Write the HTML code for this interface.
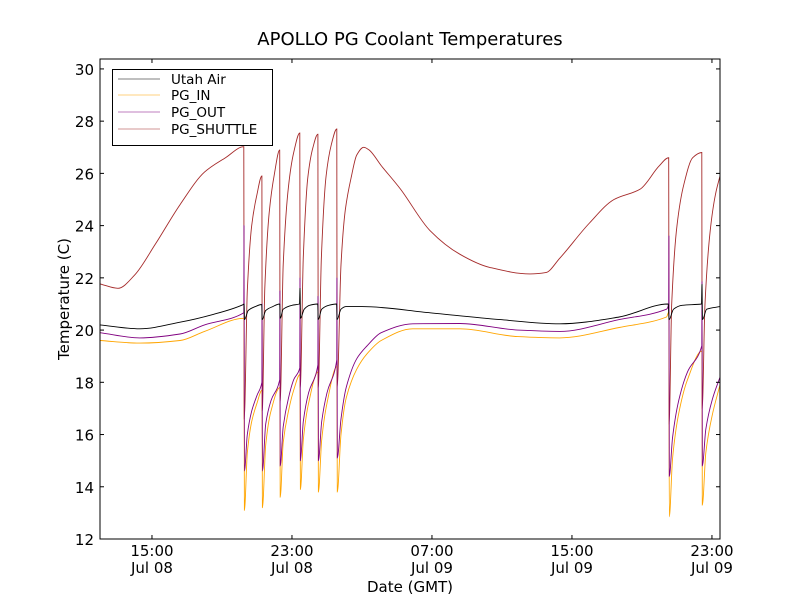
<!DOCTYPE html>
<html><head><meta charset="utf-8"><style>
body{margin:0;background:#fff;}
svg text{font-family:"DejaVu Sans","Liberation Sans",sans-serif;}
</style></head><body>
<svg id="chart" width="800" height="600" viewBox="0 0 800 600">
<rect width="800" height="600" fill="#fff"/>
<text x="410" y="45" font-size="18" text-anchor="middle">APOLLO PG Coolant Temperatures</text>
<text x="69" y="299" font-size="15" text-anchor="middle" transform="rotate(-90 69 299)">Temperature (C)</text>
<text x="410" y="592" font-size="15" text-anchor="middle">Date (GMT)</text>
<g id="series"></g>
<g id="axes"></g>
<rect x="100" y="59" width="620" height="480" fill="none" stroke="#000" stroke-width="1"/>
<g>
<rect x="112.5" y="69.5" width="160" height="76" fill="#fff" stroke="#000"/>
<g><line x1="118" y1="79" x2="160" y2="79" stroke="#000" stroke-width="0.6"/><text x="171" y="84" font-size="13.5">Utah Air</text></g>
<g><line x1="118" y1="95" x2="160" y2="95" stroke="#ffa500" stroke-width="0.6"/><text x="171" y="100" font-size="13.5">PG_IN</text></g>
<g><line x1="118" y1="112" x2="160" y2="112" stroke="#800080" stroke-width="0.6"/><text x="171" y="117" font-size="13.5">PG_OUT</text></g>
<g><line x1="118" y1="129" x2="160" y2="129" stroke="#a52a2a" stroke-width="0.6"/><text x="171" y="134" font-size="13.5">PG_SHUTTLE</text></g>
</g>
</svg>
<script>
// time in hours since Jul 08 00:00 GMT
const yTicks=[12,14,16,18,20,22,24,26,28,30];
const xTickHours=[15,23,31,39,47];
const xTickTimes=["15:00","23:00","07:00","15:00","23:00"];
const xTickDates=["Jul 08","Jul 08","Jul 09","Jul 09","Jul 09"];

const shuttleT=[12.03,13.06,14.0,15.2,16.6,18.0,19.2,20.25,20.27,20.45,20.7,21.0,21.28,21.30,21.45,21.7,22.0,22.30,22.32,22.5,22.8,23.1,23.45,23.47,23.65,23.9,24.2,24.48,24.50,24.68,24.95,25.25,25.56,25.58,25.8,26.05,26.4,26.7,27.1,27.4,28.1,29.2,30.9,32.6,34.3,36.6,37.5,38.3,40.0,41.4,42.9,44.0,44.53,44.55,44.7,45.0,45.4,45.9,46.42,46.44,46.6,46.9,47.2,47.46];
const shuttleV=[21.77,21.6,22.1,23.3,24.8,26.05,26.6,27.02,16.6,21.5,24.0,25.2,25.9,16.9,21.6,24.5,26.0,26.9,17.2,22.5,25.5,26.8,27.55,17.8,22.8,25.8,27.0,27.5,17.8,22.8,25.9,27.1,27.7,17.8,22.5,24.6,25.9,26.7,27.0,26.9,26.3,25.4,23.8,22.9,22.4,22.15,22.2,22.75,24.1,25.0,25.4,26.3,26.6,16.4,21.0,24.0,25.6,26.6,26.8,17.0,21.0,23.8,25.2,25.9];

const utahT=[12.03,14.3,16.6,18.5,20.2,20.26,20.29,20.5,20.9,21.27,21.3,21.5,21.9,22.3,22.33,22.5,23.0,23.43,23.46,23.49,23.7,24.0,24.47,24.5,24.7,25.1,25.55,25.58,25.8,26.1,27,30.9,34.9,38.3,41.7,44.5,44.55,44.8,45.3,46.4,46.43,46.46,46.7,47.46];
const utahV=[20.2,20.05,20.3,20.6,20.97,21.0,20.4,20.75,20.9,20.98,20.4,20.75,20.9,21.0,20.45,20.8,20.95,21.0,21.6,20.45,20.8,20.95,21.0,20.4,20.8,20.95,21.0,20.4,20.8,20.9,20.9,20.66,20.4,20.24,20.5,21.0,20.4,20.8,20.95,21.0,21.75,20.4,20.8,20.9];

const outT=[12.03,14.3,16.6,18.0,20.25,20.26,20.28,20.45,20.7,21.0,21.28,21.29,21.31,21.5,21.8,22.30,22.31,22.33,22.5,22.8,23.1,23.45,23.46,23.48,23.65,23.95,24.48,24.49,24.51,24.7,25.0,25.56,25.57,25.59,25.8,26.1,26.7,27.3,28.1,29.9,32.6,35.9,38.3,41.7,44.4,44.53,44.54,44.56,44.75,45.1,45.6,46.42,46.43,46.45,46.65,47.0,47.46];
const outV=[19.9,19.7,19.85,20.2,20.66,24.0,14.6,16.0,16.9,17.5,18.0,21.0,14.6,16.4,17.3,18.1,21.5,14.8,16.3,17.4,18.1,18.55,22.0,15.0,16.5,17.6,18.67,21.3,15.0,16.5,17.6,18.86,22.0,15.1,16.6,17.8,18.9,19.4,19.9,20.24,20.25,20.0,19.95,20.4,20.8,21.0,23.6,14.4,15.9,17.3,18.4,19.4,21.85,14.8,16.2,17.3,18.2];

const inT=[12.03,14.3,16.6,18.0,20.26,20.28,20.45,20.7,21.0,21.29,21.31,21.5,21.8,22.31,22.33,22.5,22.8,23.1,23.46,23.48,23.65,23.95,24.49,24.51,24.7,25.0,25.57,25.59,25.8,26.1,26.7,27.3,28.1,29.9,32.6,35.9,38.3,41.7,44.4,44.54,44.56,44.75,45.1,45.6,46.43,46.45,46.65,47.0,47.46];
const inV=[19.6,19.5,19.6,19.95,20.45,13.1,15.3,16.5,17.2,17.7,13.2,15.6,16.9,17.8,13.6,15.7,16.9,17.7,18.3,13.9,15.8,17.2,18.4,13.8,15.8,17.2,18.6,13.8,16.0,17.4,18.5,19.1,19.6,20.05,20.05,19.75,19.7,20.1,20.5,20.7,12.85,15.1,16.8,18.1,19.2,13.3,15.3,16.7,17.9];

const X0=100,X1=720,Y0=539,Y1=59,TMIN=12.03,TMAX=47.46,VMIN=12,VMAX=30.38;
function xs(t){return X0+(t-TMIN)/(TMAX-TMIN)*(X1-X0);}
function ys(v){return Y0-(v-VMIN)/(VMAX-VMIN)*(Y0-Y1);}
const NS="http://www.w3.org/2000/svg";
const sg=document.getElementById('series'), ag=document.getElementById('axes');
function monoPath(px,py){
  const n=px.length, d=[], m=new Array(n);
  for(let i=0;i<n-1;i++) d.push((py[i+1]-py[i])/(px[i+1]-px[i]));
  m[0]=d[0]; m[n-1]=d[n-2];
  for(let i=1;i<n-1;i++){ m[i]=(d[i-1]*d[i]>0)?2/(1/d[i-1]+1/d[i]):0; }
  let s='M'+px[0].toFixed(1)+','+py[0].toFixed(1);
  for(let i=0;i<n-1;i++){
    const h=px[i+1]-px[i];
    s+=' C'+(px[i]+h/3).toFixed(2)+','+(py[i]+m[i]*h/3).toFixed(2)+' '+(px[i+1]-h/3).toFixed(2)+','+(py[i+1]-m[i+1]*h/3).toFixed(2)+' '+px[i+1].toFixed(1)+','+py[i+1].toFixed(1);
  }
  return s;
}
function drawLine(T,V,color,name){
  const p=document.createElementNS(NS,'path');
  p.setAttribute('d',monoPath(T.map(xs),V.map(ys)));
  p.setAttribute('fill','none');p.setAttribute('stroke',color);p.setAttribute('stroke-width','0.9');
  
  
  sg.appendChild(p);
}
drawLine(shuttleT,shuttleV,'#a52a2a','pg-shuttle-line');
drawLine(inT,inV,'#ffa500','pg-in-line');
drawLine(outT,outV,'#800080','pg-out-line');
drawLine(utahT,utahV,'#000000','utah-air-line');

yTicks.forEach(v=>{
  const y=ys(v);
  [[X0,X0+4],[X1,X1-4]].forEach(([a,b])=>{
    const l=document.createElementNS(NS,'line');
    l.setAttribute('x1',a);l.setAttribute('x2',b);l.setAttribute('y1',y);l.setAttribute('y2',y);l.setAttribute('stroke','#000');
    
    
    ag.appendChild(l);
  });
  const t=document.createElementNS(NS,'text');
  t.setAttribute('x',X0-6);t.setAttribute('y',y+6);t.setAttribute('text-anchor','end');t.setAttribute('font-size','15');
  t.textContent=v;
  
  
  ag.appendChild(t);
});
xTickHours.forEach((h,i)=>{
  const x=xs(h);
  [[Y0,Y0-4],[Y1,Y1+4]].forEach(([a,b])=>{
    const l=document.createElementNS(NS,'line');
    l.setAttribute('x1',x);l.setAttribute('x2',x);l.setAttribute('y1',a);l.setAttribute('y2',b);l.setAttribute('stroke','#000');
    
    
    ag.appendChild(l);
  });
  const t=document.createElementNS(NS,'text');
  t.setAttribute('x',x);t.setAttribute('y',556);t.setAttribute('text-anchor','middle');t.setAttribute('font-size','15');
  t.textContent=xTickTimes[i];
  
  
  ag.appendChild(t);
  const d=document.createElementNS(NS,'text');
  d.setAttribute('x',x);d.setAttribute('y',573);d.setAttribute('text-anchor','middle');d.setAttribute('font-size','15');
  d.textContent=xTickDates[i];
  
  
  ag.appendChild(d);
});
</script>
</body></html>
